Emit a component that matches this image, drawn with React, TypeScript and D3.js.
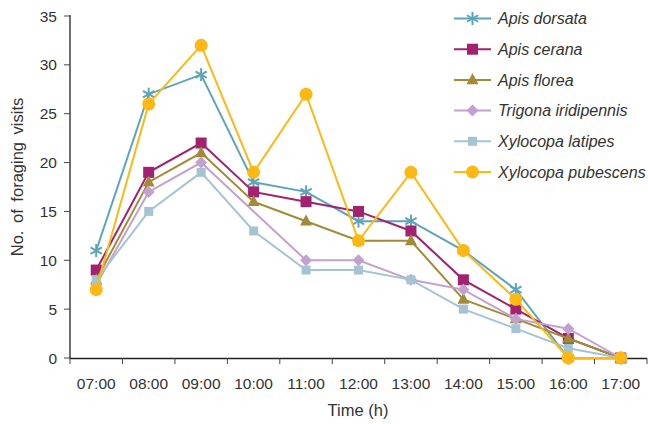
import React from "react";
import * as d3 from "d3";

const times = ["07:00", "08:00", "09:00", "10:00", "11:00", "12:00", "13:00", "14:00", "15:00", "16:00", "17:00"];
const yTicks = [0, 5, 10, 15, 20, 25, 30, 35];

const apisDorsata = [11, 27, 29, 18, 17, 14, 14, 11, 7, 0, 0];
const apisCerana = [9, 19, 22, 17, 16, 15, 13, 8, 5, 2, 0];
const apisFlorea = [8, 18, 21, 16, 14, 12, 12, 6, 4, 2, 0];
const trigonaIridipennis = [7.5, 17, 20, 15, 10, 10, 8, 7, 4, 3, 0];
const xylocopaLatipes = [8, 15, 19, 13, 9, 9, 8, 5, 3, 1, 0];
const xylocopaPubescens = [7, 26, 32, 19, 27, 12, 19, 11, 6, 0, 0];

const seriesNames = ["Apis dorsata", "Apis cerana", "Apis florea", "Trigona iridipennis", "Xylocopa latipes", "Xylocopa pubescens"];
const seriesValues = [apisDorsata, apisCerana, apisFlorea, trigonaIridipennis, xylocopaLatipes, xylocopaPubescens];
const seriesColors = ["#5ba5b9", "#a3226f", "#a28b37", "#c2a1cf", "#a4c4d4", "#fdb813"];
const seriesMarkers = ["asterisk", "square", "triangle", "diamond", "smallSquare", "circle"];
// points where the original shows no marker (series index -> time index)
const hiddenMarkers: [number, number][] = [[3, 3]];

const FONT = "'Liberation Sans', Arial, Helvetica, sans-serif";

function Marker({ kind, x, y, color }: { kind: string; x: number; y: number; color: string }) {
  if (kind === "asterisk") {
    const r = 6.5;
    const d = r * 0.87;
    return (
      <g stroke={color} strokeWidth={2} fill="none">
        <line x1={x} y1={y - r} x2={x} y2={y + r} />
        <line x1={x - d} y1={y - r / 2} x2={x + d} y2={y + r / 2} />
        <line x1={x - d} y1={y + r / 2} x2={x + d} y2={y - r / 2} />
      </g>
    );
  }
  if (kind === "square") {
    const s = 11;
    return <rect x={x - s / 2} y={y - s / 2} width={s} height={s} fill={color} />;
  }
  if (kind === "smallSquare") {
    const s = 9;
    return <rect x={x - s / 2} y={y - s / 2} width={s} height={s} fill={color} />;
  }
  if (kind === "triangle") {
    const h = 11;
    const w = 12;
    return <path d={`M${x},${y - h * 0.6} L${x + w / 2},${y + h * 0.4} L${x - w / 2},${y + h * 0.4} Z`} fill={color} />;
  }
  if (kind === "diamond") {
    const r = 6;
    return <path d={`M${x},${y - r} L${x + r},${y} L${x},${y + r} L${x - r},${y} Z`} fill={color} />;
  }
  return <circle cx={x} cy={y} r={6.5} fill={color} />;
}

export default function App() {
  const width = 648;
  const height = 424;
  const left = 70;
  const right = 647;
  const top = 16;
  const bottom = 358;

  const x = d3.scaleBand<string>().domain(times).range([left, right]).padding(0);
  const y = d3.scaleLinear().domain([0, 35]).range([bottom, top]);
  const cx = (t: string) => (x(t) as number) + x.bandwidth() / 2;

  const line = d3
    .line<number>()
    .x((_, i) => cx(times[i]))
    .y((v) => y(v));

  const boundaries = times.map((t) => x(t) as number).concat([right]);

  const legendX = 454;
  const legendTop = 18.5;
  const legendStep = 30.7;

  return (
    <svg width={width} height={height} style={{ position: "absolute", left: 0, top: 0 }} fontFamily={FONT}>
      <rect width={width} height={height} fill="#ffffff" />
      {/* axes */}
      <line x1={left} y1={top - 1} x2={left} y2={bottom + 0.5} stroke="#222" strokeWidth={1.3} />
      <line x1={left} y1={bottom + 0.5} x2={right} y2={bottom + 0.5} stroke="#222" strokeWidth={1.3} />
      {yTicks.map((t) => (
        <g key={"y" + t}>
          <line x1={left - 6} x2={left} y1={y(t)} y2={y(t)} stroke="#444" strokeWidth={1} />
          <text x={57} y={y(t)} dy="0.36em" textAnchor="end" fontSize={15.5} fill="#333">
            {t}
          </text>
        </g>
      ))}
      {boundaries.map((b, i) => (
        <line key={"xt" + i} x1={b} x2={b} y1={bottom} y2={bottom + 6} stroke="#444" strokeWidth={1} />
      ))}
      {times.map((t) => (
        <text key={"xl" + t} x={cx(t)} y={383} dy="0.36em" textAnchor="middle" fontSize={15.5} fill="#333">
          {t}
        </text>
      ))}
      <text x={358} y={410} dy="0.36em" textAnchor="middle" fontSize={16.5} fill="#333">
        Time (h)
      </text>
      <text
        transform={`translate(17,177) rotate(-90)`}
        dy="0.36em"
        textAnchor="middle"
        fontSize={16.5}
        fill="#333"
        wordSpacing={3}
      >
        No. of foraging visits
      </text>

      {/* series */}
      {seriesValues.map((vals, si) => (
        <g key={"s" + si}>
          <path d={line(vals) || ""} fill="none" stroke={seriesColors[si]} strokeWidth={2} />
          {vals.map((v, i) =>
            hiddenMarkers.some(([a, b]) => a === si && b === i) ? null : (
              <Marker key={i} kind={seriesMarkers[si]} x={cx(times[i])} y={y(v)} color={seriesColors[si]} />
            )
          )}
        </g>
      ))}

      {/* legend */}
      {seriesNames.map((name, si) => {
        const ly = legendTop + si * legendStep;
        return (
          <g key={"lg" + si}>
            <line x1={legendX} x2={legendX + 37} y1={ly} y2={ly} stroke={seriesColors[si]} strokeWidth={2} />
            <Marker kind={seriesMarkers[si]} x={legendX + 18.5} y={ly} color={seriesColors[si]} />
            <text x={498} y={ly} dy="0.36em" fontSize={16} fontStyle="italic" fill="#333">
              {name}
            </text>
          </g>
        );
      })}
    </svg>
  );
}
